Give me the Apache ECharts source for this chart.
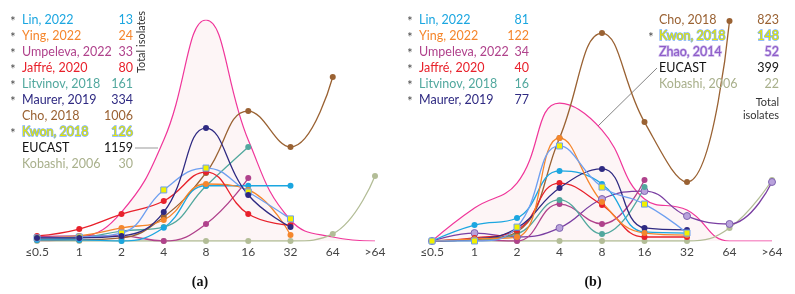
<!DOCTYPE html>
<html>
<head>
<meta charset="utf-8">
<script src="https://cdn.jsdelivr.net/npm/echarts@6/dist/echarts.min.js"></script>
<style>
  html, body { margin: 0; padding: 0; background: #fff; }
  #chart { width: 795px; height: 294px; }
</style>
</head>
<body>
<div id="chart"></div>
<script>
  // MIC categories (mg/L)
  const categories = ['≤0.5', '1', '2', '4', '8', '16', '32', '64', '>64']

  // panel (a) - % of isolates
  const linA = [0.5, 0.5, 0, 6, 25, 25, 25]
  const yingA = [1.4, 2.3, 5.9, 9.5, 25.8, 23.1, 2.7]
  const umpelevaA = [1.8, 2.3, 2.3, 0, 7.7, 28.5]
  const jaffreA = [2.3, 5.4, 12.2, 18.1, 31.2, 12.2, 7.2]
  const litvinovA = [0.9, 1.4, 4.5, 6.3, 24.9, 42.5]
  const maurerA = [1.4, 1.4, 2.3, 13.1, 51.1, 20.8, 6.3]
  const choA = [0.5, 0.5, 1.4, 10.9, 30.8, 58.8, 42.5, 74.2]
  const kwonA = [1.4, 1.8, 3.6, 23.1, 33.0, 22.2, 10.0]
  const kobashiA = [0, 0, 0, 0, 0, 0, 0, 3.2, 29.4]
  const eucastA = [0, 1.4, 13.1, 45.7, 100, 45.7, 9.5, 1.8, 0]

  // panel (b)
  const linB = [0, 7.2, 10.4, 31.7, 25.8, 4.1, 3.6]
  const yingB = [0, 0.9, 1.8, 46.6, 17.6, 3.6, 2.7]
  const umpelevaB = [0, 0.5, 0, 16.7, 7.7, 27.6]
  const jaffreB = [0, 1.4, 5.0, 26.2, 16.3, 1.8, 1.8]
  const litvinovB = [0, 0.5, 3.2, 18.6, 3.2, 24.4]
  const maurerB = [0, 0.9, 5.9, 24.0, 32.6, 5.9, 5.0]
  const choB = [0, 0.9, 4.1, 46.6, 94.1, 53.8, 26.7, 99.5]
  const kwonB = [0, 0, 6.3, 43.0, 24.4, 16.7, 3.6]
  const zhaoB = [0, 3.6, 1.8, 5.9, 19.0, 22.6, 11.3, 7.7, 26.7]
  const kobashiB = [0, 0, 0, 0, 0, 0, 0, 5.9, 27.6]
  const eucastB = [0, 14.9, 26.2, 62.4, 50.2, 19.0, 14.0, 0, 0]

  // legend texts
  const namesA = ['Lin, 2022', 'Ying, 2022', 'Umpeleva, 2022', 'Jaffré, 2020', 'Litvinov, 2018', 'Maurer, 2019', 'Cho, 2018', 'Kwon, 2018', 'EUCAST', 'Kobashi, 2006']
  const totalsA = ['13', '24', '33', '80', '161', '334', '1006', '126', '1159', '30']
  const starA = [1, 1, 1, 1, 1, 1, 0, 1, 0, 0]
  const namesB1 = ['Lin, 2022', 'Ying, 2022', 'Umpeleva, 2022', 'Jaffré, 2020', 'Litvinov, 2018', 'Maurer, 2019']
  const totalsB1 = ['81', '122', '34', '40', '16', '77']
  const namesB2 = ['Cho, 2018', 'Kwon, 2018', 'Zhao, 2014', 'EUCAST', 'Kobashi, 2006']
  const totalsB2 = ['823', '148', '52', '399', '22']
  const starB2 = [0, 1, 0, 0, 0]

  const C = {
    lin: '#1BA6E0',
    ying: '#F5862C',
    umpeleva: '#B0428C',
    jaffre: '#E8212B',
    litvinov: '#52A89E',
    maurer: '#2F2A82',
    cho: '#9A6233',
    kwon: '#6E9FF0',
    eucast: '#F0369A',
    kobashi: '#B3BD97',
    zhao: '#7A3FA2'
  }
  const colorsA = [C.lin, C.ying, C.umpeleva, C.jaffre, C.litvinov, C.maurer, C.cho, '#E8E600', '#111', '#A9B08C']
  const colorsB1 = [C.lin, C.ying, C.umpeleva, C.jaffre, C.litvinov, C.maurer]
  const colorsB2 = [C.cho, '#E8E600', '#8E5CC8', '#111', '#A9B08C']

  const FONT = 'Lato, "Liberation Sans", sans-serif'

  function line(name, data, color, idx, extra) {
    return Object.assign({
      name: name,
      type: 'line',
      xAxisIndex: idx,
      yAxisIndex: idx,
      data: data,
      smooth: 0.45,
      symbol: 'circle',
      symbolSize: 6,
      lineStyle: { color: color, width: 1.3 },
      itemStyle: { color: color },
      z: 3
    }, extra || {})
  }

  function eucast(data, idx) {
    return {
      name: 'EUCAST',
      type: 'line',
      xAxisIndex: idx,
      yAxisIndex: idx,
      data: data,
      smooth: 0.45,
      showSymbol: false,
      lineStyle: { color: C.eucast, width: 1.2 },
      areaStyle: { color: 'rgba(240, 190, 195, 0.22)' },
      z: 1
    }
  }

  const kwonStyle = {
    symbol: 'rect',
    symbolSize: 6,
    itemStyle: { color: '#F2F000', borderColor: C.kwon, borderWidth: 1 }
  }
  const zhaoStyle = {
    symbolSize: 7,
    itemStyle: { color: '#B9A2DC', borderColor: '#7F64B0', borderWidth: 1 }
  }

  // legend graphics
  const graphics = []
  function addText(x, y, text, color, align, extra) {
    graphics.push({
      type: 'text',
      x: x, y: y,
      style: Object.assign({
        text: text, fill: color, font: '12.5px ' + FONT,
        align: align, verticalAlign: 'middle'
      }, extra || {}),
      z: 10
    })
  }
  const kwonText = { stroke: '#7AAFF5', lineWidth: 1.4, strokeFirst: true }
  const zhaoText = { stroke: '#C9B5EA', lineWidth: 1.4, strokeFirst: true }

  namesA.forEach((n, i) => {
    const y = 20 + i * 16
    const ex = n.indexOf('Kwon') === 0 ? kwonText : null
    if (starA[i]) addText(13, y + 2, '*', '#444', 'center')
    addText(22, y, n, colorsA[i], 'left', ex)
    addText(133, y, totalsA[i], colorsA[i], 'right', ex)
  })
  namesB1.forEach((n, i) => {
    const y = 20 + i * 16
    addText(410, y + 2, '*', '#444', 'center')
    addText(419, y, n, colorsB1[i], 'left')
    addText(529, y, totalsB1[i], colorsB1[i], 'right')
  })
  namesB2.forEach((n, i) => {
    const y = 20 + i * 16
    let ex = null
    if (n.indexOf('Kwon') === 0) ex = kwonText
    if (n.indexOf('Zhao') === 0) ex = zhaoText
    if (starB2[i]) addText(651, y + 2, '*', '#444', 'center')
    addText(659, y, n, colorsB2[i], 'left', ex)
    addText(779, y, totalsB2[i], colorsB2[i], 'right', ex)
  })

  // "Total isolates" captions
  graphics.push({
    type: 'text', x: 141, y: 42, rotation: Math.PI / 2,
    style: { text: 'Total isolates', fill: '#333', font: '11px ' + FONT, align: 'center', verticalAlign: 'middle' }
  })
  graphics.push({
    type: 'text', x: 779, y: 102,
    style: { text: 'Total', fill: '#333', font: '11px ' + FONT, align: 'right', verticalAlign: 'middle' }
  })
  graphics.push({
    type: 'text', x: 779, y: 115,
    style: { text: 'isolates', fill: '#333', font: '11px ' + FONT, align: 'right', verticalAlign: 'middle' }
  })

  // pointer lines to EUCAST curves
  graphics.push({ type: 'line', shape: { x1: 135, y1: 148, x2: 158, y2: 148 }, style: { stroke: '#999', lineWidth: 1 } })
  graphics.push({ type: 'line', shape: { x1: 657, y1: 68, x2: 598, y2: 126 }, style: { stroke: '#666', lineWidth: 0.8 } })

  // panel captions
  graphics.push({
    type: 'text', x: 200, y: 282,
    style: { text: '(a)', fill: '#111', font: 'bold 14px "Liberation Serif", serif', align: 'center', verticalAlign: 'middle' }
  })
  graphics.push({
    type: 'text', x: 593, y: 282,
    style: { text: '(b)', fill: '#111', font: 'bold 14px "Liberation Serif", serif', align: 'center', verticalAlign: 'middle' }
  })

  const xAxisBase = {
    type: 'category',
    data: categories,
    boundaryGap: false,
    axisLine: { show: false },
    axisTick: { show: false },
    axisLabel: { color: '#444', fontSize: 12, fontFamily: FONT, margin: 5, interval: 0 }
  }
  const yAxisBase = {
    type: 'value',
    min: 0,
    max: 100,
    show: false
  }

  const chart = echarts.init(document.getElementById('chart'))
  const option = {
    backgroundColor: '#fff',
    animation: false,
    grid: [
      { left: 37, top: 20, width: 338, height: 221, outerBoundsMode: 'none' },
      { left: 432, top: 20, width: 340, height: 221, outerBoundsMode: 'none' }
    ],
    xAxis: [
      Object.assign({ gridIndex: 0 }, xAxisBase),
      Object.assign({ gridIndex: 1 }, xAxisBase)
    ],
    yAxis: [
      Object.assign({ gridIndex: 0 }, yAxisBase),
      Object.assign({ gridIndex: 1 }, yAxisBase)
    ],
    graphic: graphics,
    series: [
      eucast(eucastA, 0),
      line('Kobashi, 2006', kobashiA, C.kobashi, 0),
      line('Umpeleva, 2022', umpelevaA, C.umpeleva, 0),
      line('Litvinov, 2018', litvinovA, C.litvinov, 0),
      line('Cho, 2018', choA, C.cho, 0),
      line('Lin, 2022', linA, C.lin, 0),
      line('Ying, 2022', yingA, C.ying, 0),
      line('Jaffré, 2020', jaffreA, C.jaffre, 0),
      line('Kwon, 2018', kwonA, C.kwon, 0, kwonStyle),
      line('Maurer, 2019', maurerA, C.maurer, 0),

      eucast(eucastB, 1),
      line('Kobashi, 2006', kobashiB, C.kobashi, 1),
      line('Zhao, 2014', zhaoB, C.zhao, 1, zhaoStyle),
      line('Umpeleva, 2022', umpelevaB, C.umpeleva, 1),
      line('Litvinov, 2018', litvinovB, C.litvinov, 1),
      line('Cho, 2018', choB, C.cho, 1),
      line('Lin, 2022', linB, C.lin, 1),
      line('Jaffré, 2020', jaffreB, C.jaffre, 1),
      line('Maurer, 2019', maurerB, C.maurer, 1),
      line('Ying, 2022', yingB, C.ying, 1),
      line('Kwon, 2018', kwonB, C.kwon, 1, kwonStyle)
    ]
  }
  chart.setOption(option)
</script>
</body>
</html>
